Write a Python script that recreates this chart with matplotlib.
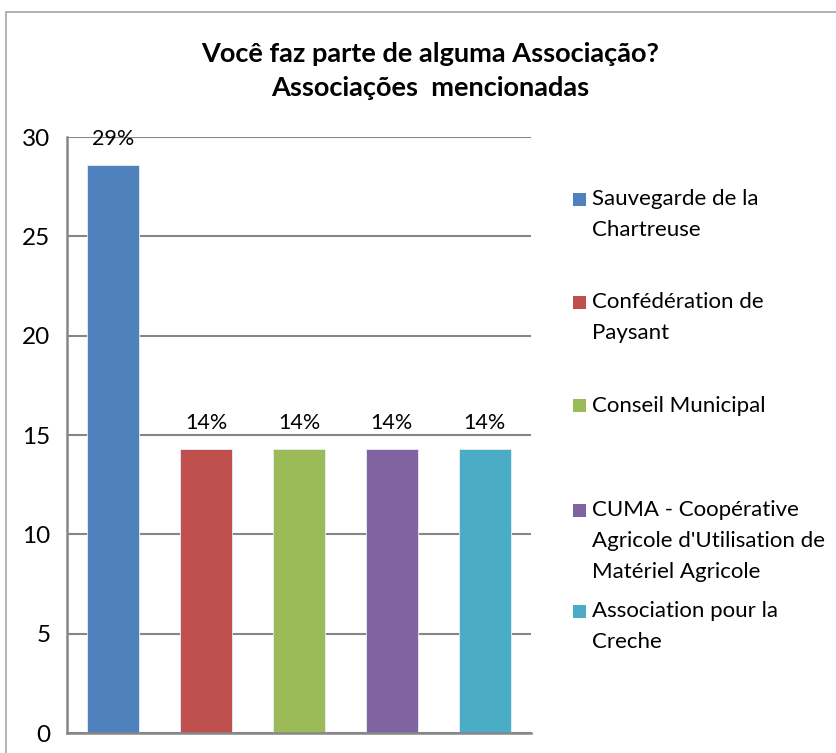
import matplotlib
matplotlib.use("Agg")
import matplotlib.pyplot as plt
from matplotlib.patches import Rectangle

categories = [
    "Sauvegarde de la\nChartreuse",
    "Confédération de\nPaysant",
    "Conseil Municipal",
    "CUMA - Coopérative\nAgricole d'Utilisation de\nMatériel Agricole",
    "Association pour la\nCreche",
]
values = [28.57, 14.29, 14.29, 14.29, 14.29]
pct_labels = ["29%", "14%", "14%", "14%", "14%"]
yticks = [0, 5, 10, 15, 20, 25, 30]
colors = ["#4F81BD", "#C0504D", "#9BBB59", "#8064A2", "#4BACC6"]
title = "Você faz parte de alguma Associação?\nAssociações  mencionadas"

W, H = 837, 753
fig = plt.figure(figsize=(W / 100, H / 100), dpi=100)
plt.rcParams['font.family'] = ['Lato', 'DejaVu Sans']

# outer chart border
fig.add_artist(Rectangle((6 / W, -0.05), 1.2, 1 - 12 / H + 0.05, transform=fig.transFigure,
                         fill=False, edgecolor="#a6a6a6", lw=1.2))

ax = fig.add_axes([67 / W, 1 - 733 / H, (531 - 67) / W, (733 - 137) / H])
x = list(range(len(values)))
ax.bar(x, values, width=0.56, color=colors, edgecolor="#e8eef6", linewidth=0.6, zorder=3)
ax.set_xlim(-0.5, len(values) - 0.5)
ax.set_ylim(0, 30)
ax.set_yticks(yticks)
ax.set_yticklabels([str(t) for t in yticks], fontsize=17.5)
ax.set_xticks([])
ax.tick_params(axis="y", length=0, pad=12)
ax.grid(axis="y", color="#868686", lw=1.5, zorder=0)
for s in ["top", "right"]:
    ax.spines[s].set_visible(False)
for s in ["left", "bottom"]:
    ax.spines[s].set_color("#868686")
    ax.spines[s].set_linewidth(1.8)
    ax.spines[s].set_zorder(4)

for xi, v, lab in zip(x, values, pct_labels):
    ax.annotate(lab, (xi, v), xytext=(0, 26), textcoords="offset pixels",
                ha="center", va="center", fontsize=15.5)

fig.text(430 / W, 1 - 71 / H, title, ha="center", va="center", fontsize=19.5,
         fontweight="bold", linespacing=1.45)

# legend
leg_y = [199, 302, 406, 510, 611]
for lab, c, yy in zip(categories, colors, leg_y):
    fig.add_artist(Rectangle((573 / W, 1 - (yy + 6.5) / H), 13 / W, 13 / H,
                             transform=fig.transFigure, facecolor=c, edgecolor="none"))
    fig.text(592 / W, 1 - (yy - 10) / H, lab, ha="left", va="top", fontsize=16,
             linespacing=1.7)

fig.savefig("out.png", dpi=100)
